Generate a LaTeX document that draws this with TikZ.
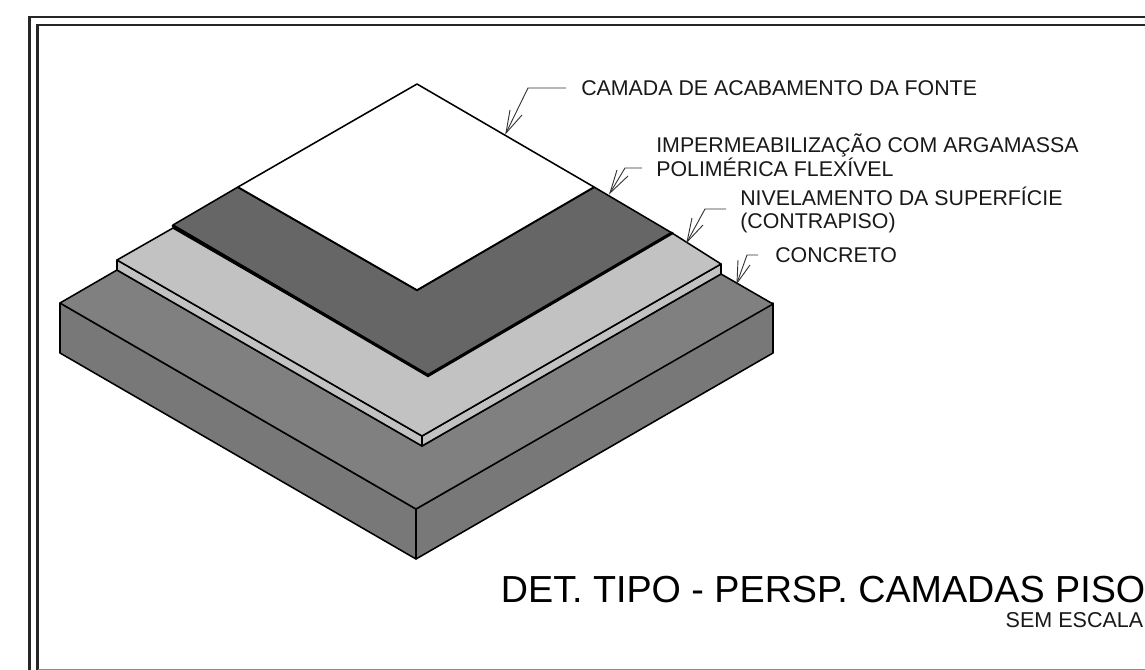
\documentclass[tikz,border=0pt]{standalone}
\usepackage{fontspec}
\setmainfont{Liberation Sans}
\definecolor{slab}{gray}{0.5}
\definecolor{slabside}{gray}{0.47}
\definecolor{screed}{gray}{0.76}
\definecolor{membrane}{gray}{0.4}
\tikzset{
  edgeline/.style={draw=black,line width=1.1pt,line join=round},
  frameline/.style={draw=black!85,line width=1.5pt},
  leader/.style={draw=black!80,line width=0.65pt,line join=miter},
  lbl/.style={anchor=west,inner sep=0pt,align=left,font=\fontsize{15.18}{16.3}\selectfont,text=black!90},
}
\begin{document}
\begin{tikzpicture}[x=0.025cm,y=-0.025cm]
\useasboundingbox (0,0) rectangle (1145,670);
\fill[white] (0,0) rectangle (1145,670);
% frames
\draw[frameline] (29.5,670) -- (29.5,17) -- (1145,17);
\draw[frameline] (37.5,670) -- (37.5,25) -- (1145,25);
\draw[draw=black!45,line width=0.7pt] (38,669.3) -- (1145,669.3);
% concrete
\filldraw[edgeline,fill=slabside] (60,303) -- (416,509) -- (416,559) -- (60,353) -- cycle;
\filldraw[edgeline,fill=slabside] (773,303) -- (416,509) -- (416,559) -- (773,353) -- cycle;
\filldraw[edgeline,fill=slab] (60,303) -- (117,270) -- (422,446) -- (721,274) -- (773,304) -- (416,509) -- cycle;
% screed
\filldraw[edgeline,fill=screed] (117,260) -- (422,436) -- (422,446) -- (117,270) -- cycle;
\filldraw[edgeline,fill=screed] (721,264) -- (422,436) -- (422,446) -- (721,274) -- cycle;
\filldraw[edgeline,fill=screed] (117,260) -- (173,228) -- (428,375) -- (672,233) -- (721,264) -- (422,436) -- cycle;
% membrane
\filldraw[edgeline,fill=membrane] (173,225) -- (238,187) -- (417,290) -- (594,187) -- (672,233) -- (428,375) -- cycle;
\draw[draw=black,line width=2.2pt,line cap=round] (173,226) -- (428,375.5) -- (672,233);
\draw[draw=black,line width=1.6pt] (238,187) -- (417,290) -- (594,187);
% top
\filldraw[edgeline,fill=white] (417,84) -- (594,187) -- (417,290) -- (238,187) -- cycle;
% labels
\node[lbl] (t1) at (581,88) {CAMADA DE ACABAMENTO DA FONTE};
\node[lbl] (t2) at (656,155.5) {IMPERMEABILIZAÇÃO COM ARGAMASSA\\POLIMÉRICA FLEXÍVEL};
\node[lbl] (t3) at (740,209.5) {NIVELAMENTO DA SUPERFÍCIE\\(CONTRAPISO)};
\node[lbl] (t4) at (775,255) {CONCRETO};
\node[anchor=east,inner sep=0pt,font=\fontsize{26.8}{28}\selectfont,text=black] (title) at (1145.5,590) {DET. TIPO - PERSP. CAMADAS PISO};
\node[anchor=east,inner sep=0pt,font=\fontsize{15.3}{16}\selectfont,text=black!90] (scale) at (1143.5,620.5) {SEM ESCALA};
% leaders
\coordinate (a1) at (506,133); \coordinate (e1) at (528,88); \coordinate (s1) at (566,88);
\coordinate (a2) at (610,193); \coordinate (e2) at (625,168); \coordinate (s2) at (642,168);
\coordinate (a3) at (687,242); \coordinate (e3) at (705,209); \coordinate (s3) at (726,209);
\coordinate (a4) at (737,283); \coordinate (e4) at (747,255); \coordinate (s4) at (758,255);
\draw[leader] (s1) -- (e1) -- (a1);
\draw[leader] (510,110) -- (a1) -- (522,115);
\draw[leader] (s2) -- (e2) -- (a2);
\draw[leader] (617,170) -- (a2) -- (628,176);
\draw[leader] (s3) -- (e3) -- (a3);
\draw[leader] (692,218) -- (a3) -- (703,225);
\draw[leader] (s4) -- (e4) -- (a4);
\draw[leader] (738,260) -- (a4) -- (750,265);
\end{tikzpicture}
\end{document}
